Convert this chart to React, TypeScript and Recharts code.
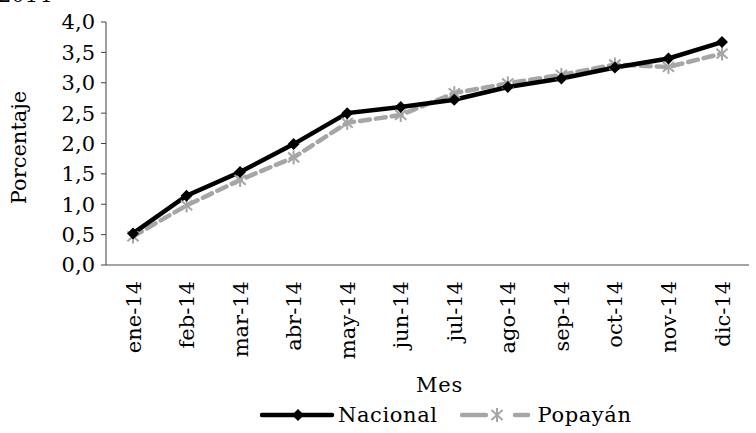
import { Legend, Line, LineChart, XAxis, YAxis } from "recharts";

const months = [
  "ene-14", "feb-14", "mar-14", "abr-14", "may-14", "jun-14",
  "jul-14", "ago-14", "sep-14", "oct-14", "nov-14", "dic-14",
];
const nacional = [0.52, 1.14, 1.53, 1.99, 2.5, 2.6, 2.72, 2.93, 3.07, 3.25, 3.4, 3.67];
const popayan = [0.47, 0.98, 1.4, 1.77, 2.34, 2.47, 2.83, 2.99, 3.13, 3.3, 3.26, 3.48];
const yTicks = [0, 0.5, 1, 1.5, 2, 2.5, 3, 3.5, 4];

const data = months.map((mes, i) => ({ mes, nacional: nacional[i], popayan: popayan[i] }));

const FONT = "'DejaVu Serif', serif";
const FS = 21;
const GRAY = "#a6a6a6";

const fmt = (v: number) => v.toFixed(1).replace(".", ",");

function Diamond({ cx, cy }: any) {
  if (cx == null || cy == null) return null;
  const r = 6;
  return <polygon points={`${cx},${cy - r} ${cx + r},${cy} ${cx},${cy + r} ${cx - r},${cy}`} fill="#000" />;
}

function Star({ cx, cy }: any) {
  if (cx == null || cy == null) return null;
  const r = 7;
  return (
    <g stroke={GRAY} strokeWidth={2}>
      <line x1={cx} y1={cy - r} x2={cx} y2={cy + r} />
      <line x1={cx - r * 0.8} y1={cy - r * 0.7} x2={cx + r * 0.8} y2={cy + r * 0.7} />
      <line x1={cx - r * 0.8} y1={cy + r * 0.7} x2={cx + r * 0.8} y2={cy - r * 0.7} />
    </g>
  );
}

function MonthTick({ x, y, payload }: any) {
  return (
    <text
      x={x}
      y={y + 8}
      transform={`rotate(-90 ${x} ${y + 8})`}
      textAnchor="end"
      dy="0.36em"
      fontFamily={FONT}
      fontSize={FS}
      fill="#000"
    >
      {payload.value}
    </text>
  );
}

function LegendBox() {
  return (
    <div style={{ display: "flex", alignItems: "center", paddingLeft: 260, fontFamily: FONT, fontSize: FS, letterSpacing: 0.6 }}>
      <svg width={76} height={20}>
        <line x1={2} y1={10} x2={72} y2={10} stroke="#000" strokeWidth={4.5} strokeLinecap="round" />
        <Diamond cx={38} cy={10} />
      </svg>
      <span style={{ marginLeft: 2, marginRight: 22 }}>Nacional</span>
      <svg width={76} height={20}>
        <line x1={2} y1={10} x2={26} y2={10} stroke={GRAY} strokeWidth={4.5} strokeLinecap="round" />
        <Star cx={37} cy={10} />
        <line x1={55} y1={10} x2={68} y2={10} stroke={GRAY} strokeWidth={4.5} strokeLinecap="round" />
      </svg>
      <span style={{ marginLeft: 2 }}>Popayán</span>
    </div>
  );
}

export default function App() {
  return (
    <div style={{ position: "absolute", left: 0, top: 0, width: 756, height: 433, overflow: "hidden", background: "#fff" }}>
      <div style={{ position: "absolute", left: -2, top: -15, fontFamily: FONT, fontSize: FS, lineHeight: "21px", color: "#000" }}>
        2014
      </div>
      <LineChart width={756} height={433} data={data} margin={{ top: 22, right: 7, left: 0, bottom: 6 }}>
        <XAxis
          dataKey="mes"
          height={138}
          tickLine={false}
          stroke="#868686"
          strokeWidth={1.5}
          interval={0}
          padding={{ left: 27, right: 27 }}
          tick={<MonthTick />}
          label={(props: any) => {
            const vb = props.viewBox;
            return (
              <text x={vb.x + vb.width / 2 + 12} y={vb.y + 127} textAnchor="middle" fontFamily={FONT} fontSize={FS} letterSpacing={0.8} fill="#000">
                Mes
              </text>
            );
          }}
        />
        <YAxis
          width={106}
          domain={[0, 4]}
          ticks={yTicks}
          interval={0}
          tickFormatter={fmt}
          stroke="#404040"
          tickSize={5}
          tickMargin={6}
          tick={{ fontFamily: FONT, fontSize: FS, fill: "#000" }}
          label={(props: any) => {
            const vb = props.viewBox;
            const cy = vb.y + vb.height / 2 + 4;
            return (
              <text x={26} y={cy} transform={`rotate(-90 26 ${cy})`} textAnchor="middle" fontFamily={FONT} fontSize={FS} fill="#000">
                Porcentaje
              </text>
            );
          }}
        />
        <Legend content={<LegendBox />} wrapperStyle={{ left: 0, width: 756, top: 403 }} />
        <Line
          dataKey="popayan"
          name="Popayán"
          stroke={GRAY}
          strokeWidth={4.5}
          strokeDasharray="10 6"
          strokeLinecap="round"
          dot={<Star />}
          activeDot={false}
          isAnimationActive={false}
        />
        <Line
          dataKey="nacional"
          name="Nacional"
          stroke="#000"
          strokeWidth={4.5}
          dot={<Diamond />}
          activeDot={false}
          isAnimationActive={false}
        />
      </LineChart>
    </div>
  );
}
